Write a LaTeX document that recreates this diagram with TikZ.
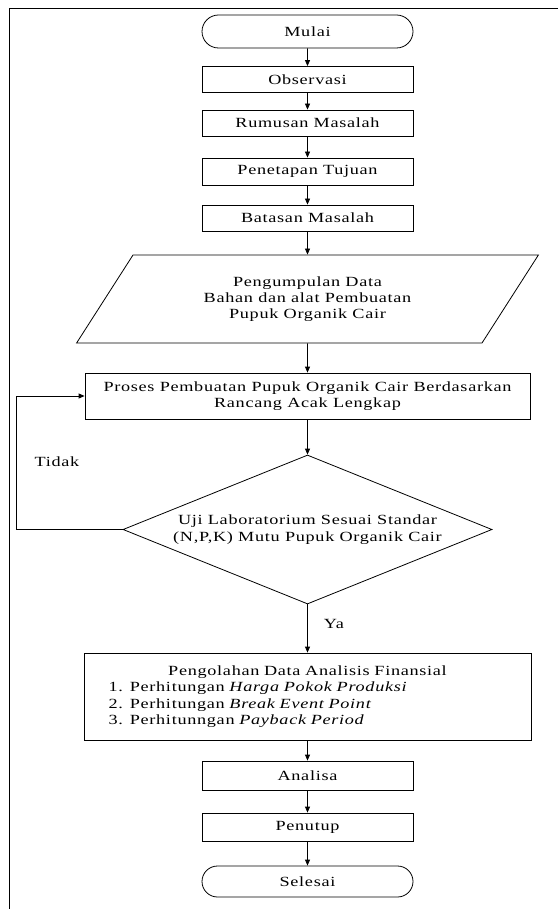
\documentclass[tikz,border=0pt]{standalone}
\usepackage{fontspec}
\setmainfont{Liberation Serif}[FakeStretch=1.3,LetterSpace=5]
\usetikzlibrary{shapes.geometric,shapes.misc,arrows.meta}

\begin{document}
\begin{tikzpicture}[x=1pt,y=-1pt,
    every node/.style={font=\fontsize{14}{16.3}\selectfont},
    box/.style={draw,line width=0.8pt,minimum width=211pt,inner sep=0pt},
    term/.style={box,rounded rectangle},
    arr/.style={line width=0.8pt,-{Triangle[length=6pt,width=5pt]}}]
  \useasboundingbox (0,0) rectangle (558,909);
  % Frame:
  \draw[line width=0.8pt] (558,8) -- (9,8) -- (9,909);
  % Steps:
  \node[term,minimum height=33pt] (mulai) at (307.5,31.5) {Mulai};
  \node[box,minimum height=26pt] (obs) at (307.5,79.5) {Observasi};
  \node[box,minimum height=26pt] (rumusan) at (307.5,123) {Rumusan Masalah};
  \node[box,minimum height=27pt] (tujuan) at (307.5,171.5) {Penetapan Tujuan};
  \node[box,minimum height=26pt] (batasan) at (307.5,218) {Batasan Masalah};
  \node[draw,line width=0.8pt,trapezium,trapezium left angle=53.5,trapezium right angle=126.5,
    trapezium stretches=true,minimum width=463pt,minimum height=88pt,inner sep=0pt,align=center]
    (data) at (307.5,299) {Pengumpulan Data\\Bahan dan alat Pembuatan\\Pupuk Organik Cair};
  \node[box,minimum width=445pt,minimum height=46pt,align=center] (proses) at (307.5,396)
    {Proses Pembuatan Pupuk Organik Cair Berdasarkan\\Rancang Acak Lengkap};
  \node[draw,line width=0.8pt,diamond,aspect=2.48,minimum width=369pt,minimum height=149pt,
    inner sep=0pt,align=center] (uji) at (307.5,529.5)
    {Uji Laboratorium Sesuai Standar\\(N,P,K) Mutu Pupuk Organik Cair};
  \node[box,minimum width=447pt,minimum height=87pt,text width=398pt,align=left] (olah) at (307.5,696.5)
    {\makebox[398pt]{Pengolahan Data Analisis Finansial}\\
     1. Perhitungan \textit{Harga Pokok Produksi}\\
     2. Perhitungan \textit{Break Event Point}\\
     3. Perhitunngan \textit{Payback Period}};
  \node[box,minimum height=29pt] (analisa) at (307.5,775.5) {Analisa};
  \node[box,minimum height=28pt] (penutup) at (307.5,827) {Penutup};
  \node[term,minimum height=31pt] (selesai) at (307.5,881.5) {Selesai};
  % Labels:
  \node (tidak) at (57,462) {Tidak};
  \node (ya) at (334,624) {Ya};
  \coordinate (loop) at (16,529.5);
  % Arrows:
  \draw[arr] (mulai) -- (obs);
  \draw[arr] (obs) -- (rumusan);
  \draw[arr] (rumusan) -- (tujuan);
  \draw[arr] (tujuan) -- (batasan);
  \draw[arr] (batasan) -- (data);
  \draw[arr] (data) -- (proses);
  \draw[arr] (proses) -- (uji);
  \draw[arr] (uji) -- (olah);
  \draw[arr] (uji.west) -- (loop) |- (proses.west);
  \draw[arr] (olah) -- (analisa);
  \draw[arr] (analisa) -- (penutup);
  \draw[arr] (penutup) -- (selesai);
\end{tikzpicture}
\end{document}
